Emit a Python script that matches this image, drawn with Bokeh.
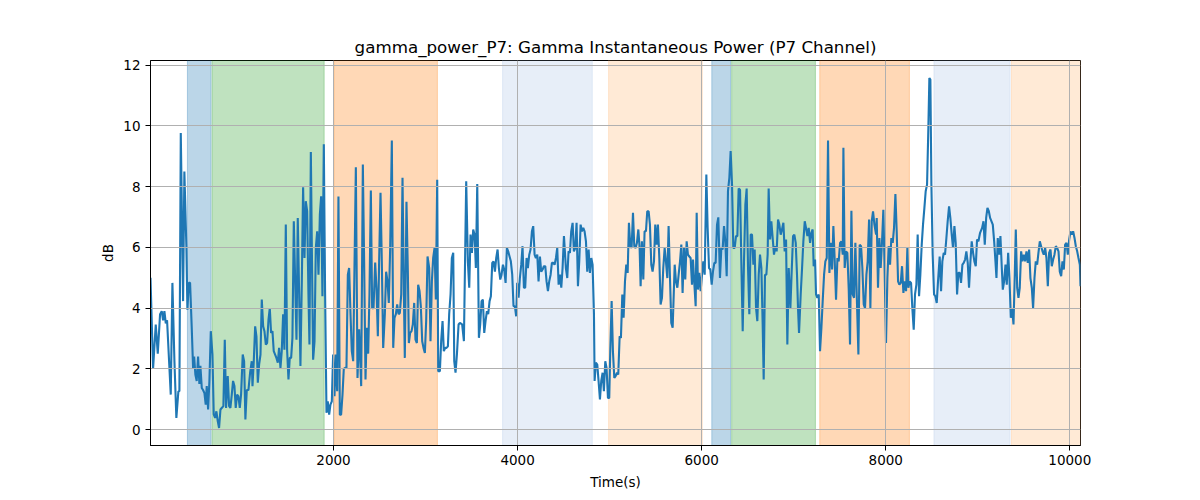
from bokeh.plotting import figure
from bokeh.models import ColumnDataSource, Range1d, FixedTicker
from bokeh.embed import file_html
from bokeh.resources import INLINE

# ---- data ----
t1 = [12, 40, 69, 91, 116, 134, 149, 163, 178, 192, 214, 232, 250, 272, 293, 315, 326, 341, 366, 380,
      402, 413, 428, 442, 460, 475, 486, 500, 514, 529, 543, 554, 569, 583, 598, 612, 623, 638, 652, 667,
      685, 699, 714, 728, 743, 757, 772, 786, 804, 819, 833, 851, 866, 880, 895, 909, 924, 938, 953, 967,
      982, 996, 1014, 1029, 1043, 1058, 1076, 1094, 1112]
v1 = [5.0, 2.0, 3.46, 2.5, 3.8, 3.9, 3.6, 3.9, 3.5, 3.6, 2.25, 1.15, 4.83, 2.25, 0.38, 1.26, 1.26, 9.77, 4.23, 8.5,
      6.0, 3.95, 4.83, 4.83, 3.35, 2.0, 2.4, 1.8, 1.6, 2.4, 1.5, 2.1, 1.37, 1.3, 1.2, 0.82, 1.43, 0.66, 1.6, 3.24,
      2.47, 0.5, 0.38, 0.6, 0.27, 0.05, 0.66, 0.71, 0.77, 2.96, 0.71, 1.76, 0.77, 0.71, 1.15, 1.6, 1.43, 0.71, 1.15, 1.1,
      0.71, 1.15, 2.47, 2.25, 0.33, 1.3, 1.3, 1.87, 2.25]

t2 = [1120, 1134, 1149, 1163, 1178, 1192, 1207, 1221, 1236, 1250, 1265, 1279, 1294, 1308, 1322, 1337, 1351, 1366,
      1380, 1395, 1409, 1424, 1438, 1453, 1467, 1482, 1496, 1511, 1525, 1540, 1554, 1569, 1583, 1598, 1612, 1627,
      1641, 1656, 1670, 1685, 1699, 1714, 1728, 1739, 1754, 1768, 1779, 1794, 1808, 1823, 1837, 1852, 1866, 1880,
      1895, 1909, 1924, 1938, 1953, 1967, 1982, 1996, 2011, 2025, 2040, 2054, 2069, 2083, 2098, 2112, 2127, 2141,
      2156, 2170, 2185, 2199, 2214, 2228, 2243]
v2 = [1.43, 2.25, 3.4, 3.07, 1.54, 2.14, 2.47, 4.28, 3.4, 3.24, 2.8, 2.85, 3.62, 4.0, 3.18, 3.24, 2.58, 2.47,
      2.36, 2.2, 2.69, 2.03, 2.58, 3.8, 2.63, 6.75, 2.63, 1.65, 2.36, 2.36, 3.02, 6.86, 5.0, 2.96, 6.97, 4.45,
      2.09, 4.88, 7.98, 5.65, 7.52, 7.19, 4.45, 2.8, 9.14, 5.1, 2.3, 2.9, 5.98, 6.53, 5.1, 7.08, 7.68, 4.39,
      9.4, 4.45, 0.55, 0.93, 0.49, 0.82, 0.93, 2.47, 1.1, 2.47, 1.26, 7.68, 0.49, 0.49, 1.15, 2.0, 2.03, 2.03,
      5.1, 5.32, 3.8, 2.58, 2.25, 5.32, 8.64]

t3 = [2261, 2279, 2301, 2319, 2333, 2348, 2362, 2377, 2391, 2406, 2420, 2435, 2453, 2467, 2482, 2496, 2511, 2525,
      2540, 2558, 2572, 2587, 2601, 2616, 2634, 2649, 2663, 2678, 2692, 2707, 2721, 2736, 2750, 2765, 2775, 2793,
      2808, 2819, 2833, 2848, 2862, 2877, 2891, 2906, 2920, 2935, 2949, 2964, 2978, 2993, 3007, 3022, 3040, 3054,
      3069, 3083, 3098, 3112, 3127, 3138, 3156, 3170, 3185, 3199, 3214, 3228, 3243, 3257, 3272, 3286, 3301, 3312,
      3326, 3341, 3359, 3373]
v3 = [1.7, 3.3, 1.43, 8.73, 5.54, 1.65, 3.35, 2.5, 4.45, 7.87, 4.0, 4.0, 5.5, 4.67, 3.07, 5.54, 7.8, 5.54,
      2.69, 3.8, 5.2, 4.88, 4.17, 5.98, 9.52, 2.69, 3.68, 3.8, 4.12, 3.8, 3.84, 4.45, 8.29, 4.45, 2.36, 7.5,
      5.2, 2.85, 3.18, 3.24, 3.46, 4.17, 2.96, 2.85, 4.77, 4.56, 4.06, 2.91, 2.69, 2.52, 3.57, 5.7, 5.32, 2.91,
      4.88, 5.65, 5.98, 4.28, 8.23, 1.92, 1.92, 2.91, 3.57, 2.58, 2.69, 2.69, 2.74, 3.8, 4.45, 5.65, 5.82, 2.25,
      1.87, 2.47, 3.46, 3.51]

t4 = [3398, 3417, 3442, 3460, 3475, 3489, 3504, 3518, 3533, 3547, 3562, 3580, 3594, 3609, 3623, 3638, 3652, 3667,
      3681, 3696, 3710, 3725, 3739, 3754, 3768, 3783, 3797, 3812, 3826, 3841, 3855, 3870, 3884, 3898, 3913, 3927,
      3942, 3956, 3971, 3985, 3996, 4011, 4025, 4040, 4054, 4069, 4083, 4098, 4112, 4127, 4141, 4156, 4170, 4185,
      4199, 4214, 4228, 4243, 4257, 4272, 4286, 4301, 4315, 4330, 4344, 4359, 4373, 4388, 4402, 4417, 4431, 4446,
      4460, 4475, 4489, 4504]
v4 = [3.46, 2.91, 8.18, 5.54, 4.67, 6.42, 5.82, 6.59, 6.42, 5.32, 8.09, 3.02, 3.46, 4.23, 4.28, 3.18, 3.57, 3.9,
      3.8, 4.23, 4.39, 5.49, 5.54, 5.2, 5.65, 5.93, 5.32, 4.94, 5.1, 5.43, 5.27, 4.83, 5.98, 5.87, 5.7, 5.54,
      5.1, 4.06, 4.06, 3.73, 4.83, 4.34, 4.99, 5.43, 6.04, 4.67, 4.67, 5.65, 5.32, 5.76, 5.93, 6.53, 6.7, 5.76,
      5.65, 5.76, 4.88, 5.7, 5.2, 5.27, 5.38, 5.38, 4.88, 4.56, 4.88, 5.1, 5.49, 5.49, 5.43, 5.65, 5.98, 4.77,
      5.1, 4.67, 5.32, 6.37]

t5 = [4525, 4540, 4554, 4569, 4583, 4598, 4612, 4627, 4641, 4656, 4670, 4685, 4699, 4714, 4728, 4743, 4757, 4772,
      4786, 4801, 4815, 4830, 4837, 4851, 4866, 4880, 4895, 4909, 4924, 4938, 4953, 4967, 4982, 4996, 5007, 5022,
      5036, 5051, 5065, 5080, 5094, 5109, 5123, 5138, 5152, 5167, 5181, 5196, 5210, 5225, 5239, 5254, 5268, 5283,
      5297, 5312, 5326, 5337, 5351, 5366, 5380, 5395, 5409, 5424, 5438, 5453, 5467, 5482, 5496, 5511, 5525, 5540,
      5554, 5569, 5583, 5598, 5612, 5627]
v5 = [5.32, 4.99, 5.87, 5.82, 6.53, 6.81, 5.87, 5.98, 6.81, 4.72, 5.54, 6.75, 6.53, 6.64, 6.53, 6.2, 5.2, 5.93,
      5.16, 5.65, 5.43, 3.8, 1.6, 2.2, 2.14, 1.6, 0.99, 1.6, 1.87, 1.26, 2.25, 2.03, 1.04, 1.04, 2.58, 4.23,
      2.58, 1.7, 1.76, 1.87, 1.81, 3.07, 3.02, 4.45, 3.68, 4.88, 5.43, 5.16, 6.81, 6.04, 5.98, 7.14, 6.04, 5.98,
      6.15, 6.59, 5.98, 4.72, 6.2, 4.94, 6.53, 6.53, 7.19, 7.19, 6.75, 5.43, 5.2, 5.54, 6.75, 6.09, 6.75, 5.65,
      4.12, 4.34, 5.32, 5.98, 5.54, 4.99]

t6 = [5641, 5656, 5670, 5685, 5707, 5721, 5736, 5750, 5765, 5779, 5793, 5808, 5822, 5837, 5851, 5866, 5880, 5895,
      5906, 5920, 5935, 5946, 5960, 5975, 5989, 6004, 6018, 6033, 6051, 6065, 6080, 6094, 6109, 6123, 6138, 6152,
      6167, 6181, 6199, 6214, 6228, 6243, 6257, 6272, 6286, 6301, 6315, 6330, 6344, 6359, 6373, 6388, 6402, 6417,
      6431, 6446, 6460, 6475, 6489, 6504, 6518, 6533, 6547, 6562, 6576, 6591, 6605, 6620, 6634, 6649, 6663, 6674,
      6688, 6703, 6717, 6728, 6743, 6757]
v6 = [6.7, 4.99, 3.51, 3.35, 5.43, 4.88, 4.67, 5.1, 5.54, 6.09, 4.5, 5.98, 4.94, 6.2, 5.76, 5.7, 5.65, 4.77,
      5.6, 4.83, 4.06, 7.14, 4.61, 5.16, 4.56, 5.1, 5.54, 5.1, 8.4, 6.64, 5.32, 5.27, 4.77, 5.2, 5.49, 5.49,
      6.75, 6.99, 4.99, 5.98, 5.93, 6.7, 6.2, 5.05, 7.85, 8.29, 9.17, 8.07, 5.98, 5.98, 6.37, 6.37, 7.94, 7.9,
      5.54, 3.24, 5.54, 7.41, 7.94, 5.32, 3.8, 6.42, 6.42, 5.43, 5.93, 4.0, 3.57, 5.1, 5.76, 5.32, 3.46, 1.65,
      5.1, 5.1, 5.76, 7.94, 6.26, 6.86]

t7 = [6786, 6801, 6815, 6830, 6844, 6859, 6873, 6888, 6902, 6917, 6931, 6946, 6964, 6978, 6993, 7007, 7022, 7036,
      7047, 7058, 7076, 7091, 7105, 7120, 7134, 7149, 7163, 7178, 7192, 7206, 7217, 7232, 7243, 7257, 7272, 7286,
      7301, 7315, 7330, 7344, 7359, 7373, 7388, 7402, 7417, 7431, 7446, 7460, 7475, 7489, 7504, 7518, 7533, 7540,
      7554, 7569, 7583, 7598, 7612, 7627, 7641, 7656, 7670, 7685, 7703, 7717, 7732, 7746, 7761, 7775, 7790, 7804,
      7819, 7833, 7848, 7862, 7877, 7895]
v7 = [5.76, 6.04, 5.87, 6.92, 6.75, 6.42, 6.59, 6.81, 5.87, 6.26, 2.8, 5.32, 4.0, 5.2, 6.37, 6.42, 6.15, 5.1,
      4.0, 3.18, 4.45, 5.32, 6.2, 6.86, 6.64, 6.37, 6.64, 6.15, 6.48, 6.59, 5.38, 5.6, 4.45, 4.34, 4.45, 2.58,
      3.35, 4.23, 5.1, 5.54, 5.65, 9.52, 5.16, 6.15, 5.27, 6.7, 5.54, 4.28, 5.65, 5.54, 6.15, 6.2, 5.76, 9.28,
      5.32, 5.87, 5.82, 4.61, 2.8, 7.21, 4.45, 4.34, 6.15, 4.45, 2.47, 6.09, 6.04, 5.32, 4.12, 4.0, 5.1, 5.54,
      6.92, 4.0, 6.86, 7.19, 6.75, 6.42]

t8 = [7902, 7916, 7931, 7945, 7960, 7974, 7989, 8003, 8018, 8032, 8047, 8061, 8076, 8090, 8105, 8119, 8134, 8148,
      8163, 8177, 8192, 8206, 8221, 8235, 8246, 8260, 8275, 8289, 8304, 8318, 8333, 8347, 8362, 8376, 8391, 8405,
      8420, 8434, 8449, 8463, 8474, 8485, 8496, 8510, 8525, 8539, 8554, 8568, 8586, 8601, 8615, 8630, 8644, 8659,
      8673, 8688, 8702, 8717, 8731, 8746, 8760, 8775, 8789, 8804, 8818, 8833, 8847, 8862, 8876, 8891, 8905, 8920,
      8934, 8949, 8963, 8978, 8992, 9007, 9025]
v8 = [6.97, 4.67, 6.31, 5.32, 6.2, 7.24, 5.1, 2.85, 4.99, 6.04, 5.43, 6.31, 6.15, 6.64, 7.76, 6.53, 4.88, 4.77,
      4.83, 5.38, 4.5, 4.88, 4.56, 5.98, 4.67, 4.88, 4.83, 4.0, 3.29, 4.45, 4.77, 6.42, 4.39, 5.1, 6.09, 6.75,
      7.3, 7.85, 8.07, 9.93, 11.58, 11.53, 8.07, 5.76, 4.45, 4.39, 4.17, 4.88, 5.7, 4.56, 5.54, 5.82, 5.76, 6.31,
      6.86, 7.35, 6.97, 6.42, 5.98, 6.7, 6.15, 4.45, 5.16, 5.16, 4.83, 5.43, 5.49, 5.6, 5.87, 5.49, 4.67, 5.54,
      6.2, 5.82, 5.54, 5.38, 6.26, 6.2, 6.48]

t9 = [9047, 9062, 9076, 9091, 9105, 9120, 9134, 9149, 9163, 9178, 9192, 9203, 9217, 9232, 9246, 9261, 9272, 9286,
      9301, 9315, 9330, 9344, 9359, 9373, 9388, 9402, 9413, 9428, 9442, 9456, 9471, 9485, 9500, 9514, 9529, 9543,
      9558, 9572, 9587, 9601, 9616, 9630, 9645, 9659, 9674, 9688, 9703, 9717, 9732, 9746, 9761, 9775, 9790, 9804,
      9819, 9833, 9848, 9862, 9877, 9891, 9906, 9920, 9935, 9949, 9964, 9978, 9993, 10007, 10022, 10036, 10051,
      10065, 10080, 10094, 10109, 10116]
v9 = [6.64, 6.86, 6.09, 6.97, 7.3, 7.19, 6.97, 6.86, 6.75, 6.2, 5.54, 4.99, 6.31, 5.76, 6.37, 5.32, 4.61, 4.88,
      5.43, 4.77, 5.82, 4.99, 3.68, 4.0, 3.46, 5.1, 6.59, 4.67, 4.34, 4.67, 5.87, 5.54, 5.76, 5.54, 5.87, 5.49,
      5.93, 4.99, 4.67, 4.0, 4.99, 5.54, 5.43, 5.82, 6.2, 6.04, 5.87, 5.76, 5.98, 5.65, 4.72, 5.82, 5.93, 5.38,
      5.6, 5.76, 6.04, 5.98, 5.87, 5.2, 5.05, 5.54, 5.27, 6.09, 6.15, 5.76, 6.26, 6.53, 6.42, 6.53, 6.31, 6.04,
      5.87, 5.65, 5.43, 4.72]

# shaded stage intervals
region_start = [413, 681, 2005, 3837, 4989, 6110, 6326, 7283, 8524, 9366]
region_end = [670, 1899, 3129, 4812, 6007, 6315, 7236, 8257, 9351, 10116]
region_kind = [0, 1, 2, 3, 4, 0, 1, 2, 3, 4]

xticks = [2000, 4000, 6000, 8000, 10000]
yticks = [0, 2, 4, 6, 8, 10, 12]

# ---- build ----
times = t1 + t2 + t3 + t4 + t5 + t6 + t7 + t8 + t9
vals = v1 + v2 + v3 + v4 + v5 + v6 + v7 + v8 + v9

kind_fill = ["#1f77b4", "#2ca02c", "#ff7f0e", "#aec7e8", "#ffbb78"]
src_r = ColumnDataSource(dict(
    left=region_start, right=region_end,
    color=[kind_fill[k] for k in region_kind],
))

ymin, ymax = min(vals), max(vals)
span = ymax - ymin

p = figure(frame_width=930, frame_height=385,
           min_border_left=150, min_border_top=60, min_border_right=104, min_border_bottom=40,
           x_range=Range1d(times[0], times[-1]),
           y_range=Range1d(ymin - 0.05 * span, ymax + 0.05 * span),
           output_backend="svg", toolbar_location=None,
           title="gamma_power_P7: Gamma Instantaneous Power (P7 Channel)")

p.quad(left="left", right="right", bottom=-100, top=100, source=src_r,
       fill_color="color", fill_alpha=0.3, line_color="color", line_alpha=0.3,
       line_width=1, level="underlay")

p.line(times, vals, line_color="#1f77b4", line_width=2.1)

FONT = "DejaVu Sans"
p.title.text_font = FONT
p.title.text_font_size = "16.7px"
p.title.text_font_style = "normal"
p.title.align = "center"
p.title.text_color = "black"
p.title.standoff = 7

p.xaxis.ticker = FixedTicker(ticks=xticks)
p.yaxis.ticker = FixedTicker(ticks=yticks)
p.xaxis.axis_label = "Time(s)"
p.yaxis.axis_label = "dB"
for ax in (p.xaxis[0], p.yaxis[0]):
    ax.axis_label_text_font = FONT
    ax.axis_label_text_font_size = "13.5px"
    ax.axis_label_text_font_style = "normal"
    ax.axis_label_text_color = "black"
    ax.major_label_text_font = FONT
    ax.major_label_text_font_size = "13.5px"
    ax.major_label_text_color = "black"
    ax.major_tick_out = 5
    ax.major_tick_in = 0
    ax.major_tick_line_color = "black"
    ax.minor_tick_line_color = None
    ax.axis_line_color = "black"
p.xaxis[0].axis_label_standoff = 6
p.xaxis[0].major_label_standoff = 4
p.yaxis[0].axis_label_standoff = 4
p.yaxis[0].major_label_standoff = 5

p.xgrid.level = "glyph"
p.ygrid.level = "glyph"
for g in (p.xgrid[0], p.ygrid[0]):
    g.grid_line_color = "#b0b0b0"
    g.grid_line_width = 1

p.outline_line_color = "black"
p.outline_line_alpha = 1
p.outline_line_width = 1
p.background_fill_color = "white"
p.border_fill_color = "white"

open("out.html", "w").write(file_html(p, INLINE))
